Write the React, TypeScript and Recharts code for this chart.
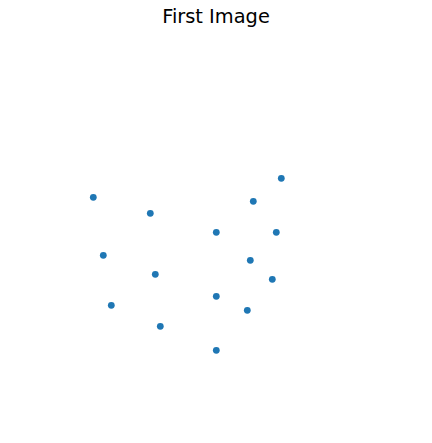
import { ScatterChart, Scatter, XAxis, YAxis } from "recharts";

// point positions (image coordinates, y grows downward)
const xs = [93.3, 150.3, 216.3, 253.3, 281.3, 276.3, 103.3, 155.3, 250.3, 272.3, 216.3, 111.3, 247.3, 160.3, 216.3];
const ys = [197.3, 213.3, 232.3, 201.3, 178.3, 232.3, 255.3, 274.3, 260.3, 279.3, 296.3, 305.3, 310.3, 326.3, 350.3];

const points = xs.map((x, i) => ({ x, y: ys[i] }));

const W = 432;
const H = 443;

const Dot = (props: any) => (
  <circle cx={props.cx} cy={props.cy} r={3.4} fill="#1f77b4" />
);

export default function App() {
  return (
    <div style={{ position: "absolute", left: 0, top: 0, width: W, height: H, background: "#fff" }}>
      <ScatterChart width={W} height={H} margin={{ top: 0, right: 0, bottom: 0, left: 0 }}>
        <XAxis type="number" dataKey="x" domain={[0, W]} hide />
        <YAxis type="number" dataKey="y" domain={[0, H]} reversed hide />
        <Scatter data={points} shape={Dot} isAnimationActive={false} />
      </ScatterChart>
      <svg width={W} height={40} style={{ position: "absolute", left: 0, top: 0 }}>
        <text
          x={W / 2}
          y={22.5}
          textAnchor="middle"
          fontFamily="DejaVu Sans"
          fontSize={19.4}
          fill="#000"
        >
          First Image
        </text>
      </svg>
    </div>
  );
}
